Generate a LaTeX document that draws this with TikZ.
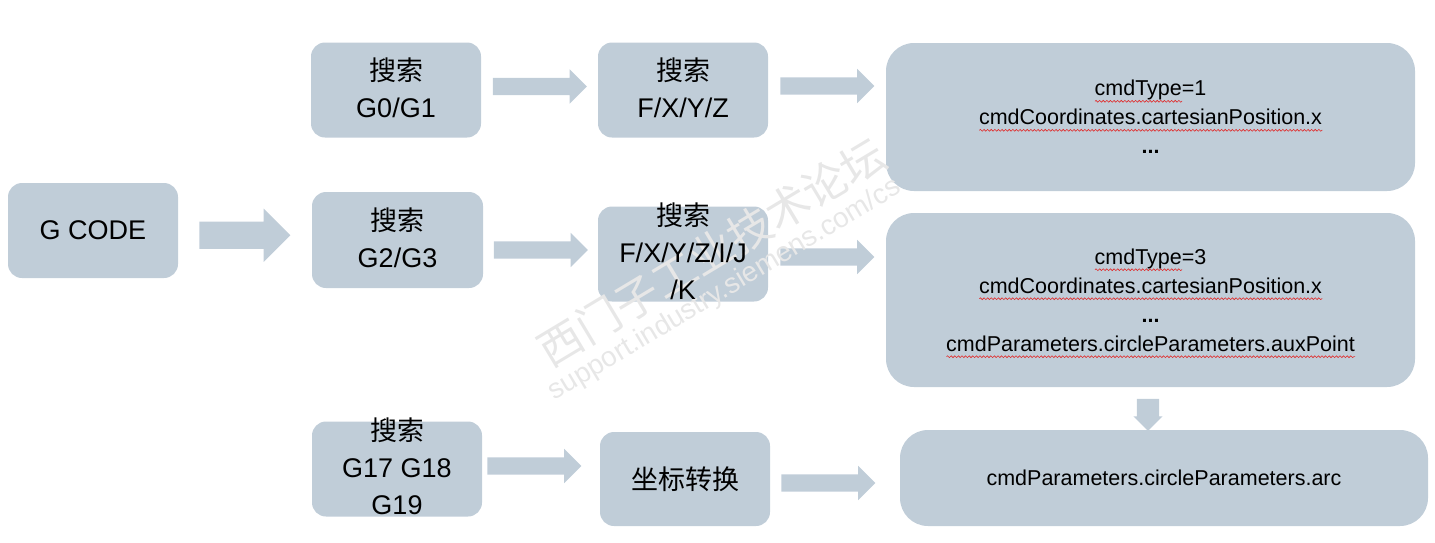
\documentclass[tikz,border=0pt]{standalone}
\usepackage{fontspec}
\setmainfont{Liberation Sans}
\newfontfamily\cjk{Noto Sans CJK SC}
\usetikzlibrary{shapes.arrows,calc,decorations.pathmorphing}
\definecolor{boxc}{RGB}{192,205,216}
\definecolor{wmc}{RGB}{231,231,231}
\definecolor{wavec}{RGB}{225,40,40}
\newsavebox\rwbox
\newcommand\rw[1]{\sbox\rwbox{#1}\rlap{\raisebox{-5.5pt}[0pt][0pt]{\tikz[baseline=0pt]\draw[wavec, line width=0.6pt, decorate, decoration={snake, amplitude=0.9pt, segment length=3.6pt}] (0pt,0pt) -- (\wd\rwbox,0pt);}}\usebox\rwbox}
\begin{document}
\begin{tikzpicture}[x=1pt,y=-1pt,
  sbox/.style={fill=boxc, rounded corners=14pt, inner sep=0pt, minimum width=170pt, minimum height=95pt},
  bbox/.style={fill=boxc, rounded corners=28pt, inner sep=0pt, minimum width=529pt},
  stxt/.style={align=center, inner sep=0pt, font=\fontsize{27}{37}\selectfont},
  mtxt/.style={stxt, yshift=2.5pt},
  btxt/.style={align=center, inner sep=0pt, font=\fontsize{21.5}{29}\selectfont},
  barrow/.style={single arrow, fill=boxc, inner sep=0pt, inner ysep=8.5pt, minimum width=0pt,
    single arrow head extend=8.5pt, minimum height=94pt},
  wmark/.style={text=wmc, inner sep=0pt, rotate=31}]
\useasboundingbox (0,0) rectangle (1435,542);
% boxes
\node[sbox] (gcode) at (93,230.5) {};
\node[sbox] (g01) at (396,90) {};
\node[sbox] (fxyz) at (683,90) {};
\node[bbox, minimum height=148pt] (b1) at (1150.5,117) {};
\node[sbox, minimum width=171pt, minimum height=96pt] (g23) at (397.5,240) {};
\node[sbox] (fij) at (683,254) {};
\node[bbox, minimum height=174pt] (b2) at (1150.5,300) {};
\node[sbox] (g17) at (397,469) {};
\node[sbox, minimum height=94pt] (zb) at (685,479) {};
\node[bbox, minimum width=528pt, minimum height=96pt] (b3) at (1164,478) {};
% block arrows
\path (gcode.east) -- (g23.west) node[midway, xshift=-7pt, barrow, inner ysep=13.5pt,
  single arrow head extend=13pt, minimum height=91pt] (a1) {};
\path ($(g01.east)+(0,-3.5)$) -- ($(fxyz.west)+(0,-3.5)$) node[midway, xshift=-4pt, barrow] (a2) {};
\path ($(fxyz.east)+(0,-4)$) -- ($(fxyz.east -| b1.west)+(0,-4)$) node[midway, xshift=-4pt, barrow] (a3) {};
\path ($(g23.east)+(0,10)$) -- ($(fij.west)+(0,-4)$) node[midway, xshift=-4pt, barrow] (a4) {};
\path ($(fij.east)+(0,3)$) -- ($(fij.east -| b2.west)+(0,3)$) node[midway, xshift=-4pt, barrow] (a5) {};
\path ($(g17.east)+(0,-3)$) -- ($(zb.west)+(0,-13)$) node[midway, xshift=-11pt, barrow] (a6) {};
\path ($(zb.east)+(0,4)$) -- ($(zb.east -| b3.west)+(0,4)$) node[midway, xshift=-11pt, barrow] (a7) {};
\coordinate (d0) at ($(b2.south)+(-2.5,0)$);
\path (d0) -- (d0 |- b3.north) node[pos=0.52, barrow, rotate=-90, inner ysep=11pt,
  single arrow head extend=3.5pt, minimum height=32pt] (a8) {};
% watermark
\node[wmark, font=\cjk\fontsize{44}{44}\selectfont] (wm1) at (712,252) {西门子工业技术论坛};
\node[wmark, font=\fontsize{28}{28}\selectfont] (wm2) at (725,290) {support.industry.siemens.com/cs};
% texts
\node[stxt] (gcodet) at (gcode) {G CODE};
\node[mtxt] (g01t) at (g01) {{\cjk 搜索}\\G0/G1};
\node[mtxt] (fxyzt) at (fxyz) {{\cjk 搜索}\\F/X/Y/Z};
\node[btxt] (b1t) at (b1) {\rw{cmdType}=1\\\rw{cmdCoordinates.cartesianPosition.x}\\\textbf{...}};
\node[mtxt] (g23t) at (g23) {{\cjk 搜索}\\G2/G3};
\node[mtxt] (fijt) at (fij) {{\cjk 搜索}\\F/X/Y/Z/I/J\\/K};
\node[btxt] (b2t) at (b2) {\rw{cmdType}=3\\\rw{cmdCoordinates.cartesianPosition.x}\\\textbf{...}\\\rw{cmdParameters.circleParameters.auxPoint}};
\node[mtxt] (g17t) at (g17) {{\cjk 搜索}\\G17 G18\\G19};
\node[stxt] (zbt) at (zb) {\cjk 坐标转换};
\node[btxt] (b3t) at (b3) {cmdParameters.circleParameters.arc};
\end{tikzpicture}
\end{document}
